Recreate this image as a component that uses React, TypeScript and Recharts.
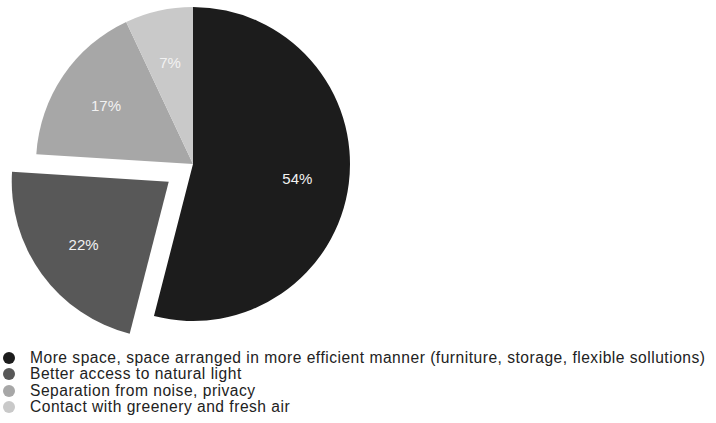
import { PieChart, Pie, Cell } from "recharts";

const categories = [
  "More space, space arranged in more efficient manner (furniture, storage, flexible sollutions)",
  "Better access to natural light",
  "Separation from noise, privacy",
  "Contact with greenery and fresh air",
];
const shares = [54, 22, 17, 7];
const colors = ["#1c1c1c", "#585858", "#a7a7a7", "#c9c9c9"];
const explodedIndex = 1;

const data = categories.map((name, i) => ({ name, value: shares[i] }));

const CX = 193;
const CY = 164;
const R = 157;
const EXPLODE = 30;

// mid angle of the exploded slice (start at 12 o'clock, clockwise)
const total = shares.reduce((a, b) => a + b, 0);
const before = shares.slice(0, explodedIndex).reduce((a, b) => a + b, 0);
const midDeg = 90 - (360 * (before + shares[explodedIndex] / 2)) / total;
const offX = EXPLODE * Math.cos((midDeg * Math.PI) / 180);
const offY = -EXPLODE * Math.sin((midDeg * Math.PI) / 180);

const font = "'Liberation Sans', Arial, sans-serif";

function makeLabel(show: (i: number) => boolean) {
  return (props: any) => {
    const { cx, cy, midAngle, outerRadius, index, value } = props;
    if (!show(index)) return null;
    const r = outerRadius * 0.67;
    const rad = (midAngle * Math.PI) / 180;
    const x = cx + r * Math.cos(rad);
    const y = cy - r * Math.sin(rad);
    return (
      <text
        x={x}
        y={y + 1}
        fill="#f2f2f2"
        fontSize={15}
        fontFamily={font}
        textAnchor="middle"
        dominantBaseline="central"
      >
        {`${value}%`}
      </text>
    );
  };
}

function LegendList() {
  return (
    <div
      style={{
        position: "absolute",
        left: 3,
        top: 350,
        fontFamily: font,
        fontSize: 15.6,
        letterSpacing: 0.5,
        color: "#222",
        lineHeight: "16.3px",
      }}
    >
      {categories.map((c, i) => (
        <div key={c} style={{ display: "flex", alignItems: "center", whiteSpace: "nowrap" }}>
          <span
            style={{
              display: "inline-block",
              width: 12,
              height: 12,
              borderRadius: 6,
              background: colors[i],
              marginRight: 15,
            }}
          />
          <span>{c}</span>
        </div>
      ))}
    </div>
  );
}

export default function App() {
  return (
    <div style={{ position: "absolute", left: 0, top: 0, width: 716, height: 423, background: "#fff" }}>
      <PieChart width={716} height={340} margin={{ top: 0, right: 0, bottom: 0, left: 0 }}>
        <Pie
          data={data}
          dataKey="value"
          nameKey="name"
          cx={CX}
          cy={CY}
          outerRadius={R}
          startAngle={90}
          endAngle={-270}
          stroke="none"
          labelLine={false}
          label={makeLabel((i) => i !== explodedIndex)}
          isAnimationActive={false}
        >
          {data.map((d, i) => (
            <Cell key={d.name} fill={i === explodedIndex ? "transparent" : colors[i]} />
          ))}
        </Pie>
        <Pie
          data={data}
          dataKey="value"
          nameKey="name"
          cx={CX + offX}
          cy={CY + offY}
          outerRadius={R}
          startAngle={90}
          endAngle={-270}
          stroke="none"
          labelLine={false}
          label={makeLabel((i) => i === explodedIndex)}
          isAnimationActive={false}
          legendType="none"
        >
          {data.map((d, i) => (
            <Cell key={d.name} fill={i === explodedIndex ? colors[i] : "transparent"} />
          ))}
        </Pie>
      </PieChart>
      <LegendList />
    </div>
  );
}
